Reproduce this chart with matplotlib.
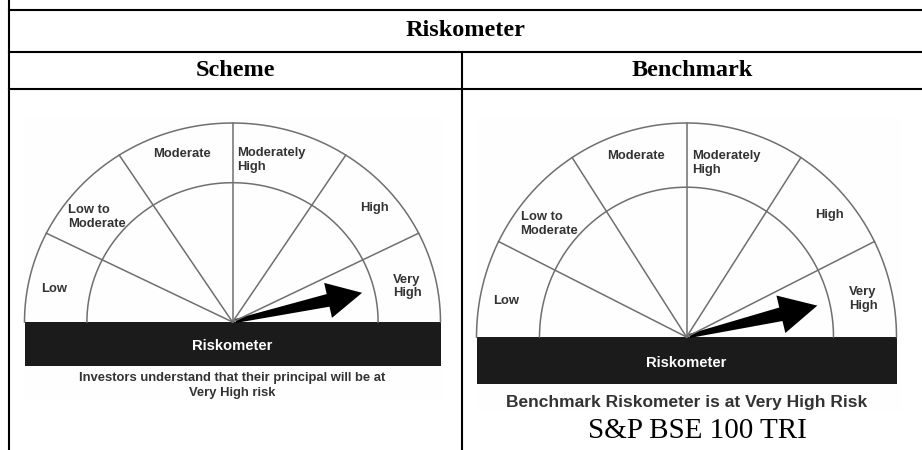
import matplotlib.pyplot as plt
from matplotlib.patches import Rectangle, Polygon
import numpy as np

# ------------------------- # Data of the chart # ------------------------- #
levels = ["Low", "Low to\nModerate", "Moderate", "Moderately\nHigh", "High",
          "Very\nHigh"]
edges = [180, 153.5, 123, 90, 57, 26.5, 0]      # segment edges in degrees
scheme_level = "Very High"
benchmark_level = "Very High"

table_title = "Riskometer"
columns = ["Scheme", "Benchmark"]
scheme_caption = ("Investors understand that their principal will be at\n"
                  "Very High risk")
benchmark_caption = "Benchmark Riskometer is at Very High Risk"
benchmark_index = "S&P BSE 100 TRI"

# ------------------------- # Styles # ------------------------- #
LINE = '#6f6f6f'
TEXT = '#333333'
BAR = '#1b1b1b'
SANS = 'Liberation Sans'
SERIF = 'Liberation Serif'
# where each segment name sits (radius fraction, angle in degrees)
LABEL_POS = [(0.875, 169), (0.84, 141), (0.88, 106), (0.835, 77),
             (0.89, 40), (0.86, 12)]


def draw_gauge(ax, cx, cy, rx, ry, level):
    # Outer and inner arcs
    t = np.linspace(0, np.pi, 300)
    for f in (1.0, 0.70):
        ax.plot(cx + f * rx * np.cos(t), cy - f * ry * np.sin(t),
                color=LINE, lw=1.1)
    # Dividers between the segments
    for a in edges[1:-1]:
        r = np.radians(a)
        ax.plot([cx, cx + rx * np.cos(r)], [cy, cy - ry * np.sin(r)],
                color=LINE, lw=1.1)
    # Segment names
    for name, (f, a) in zip(levels, LABEL_POS):
        r = np.radians(a)
        ax.text(cx + f * rx * np.cos(r), cy - f * ry * np.sin(r),
                name, ha='center', va='center', multialignment='left',
                fontsize=9.4, fontweight='bold', color=TEXT, family=SANS,
                linespacing=1.2)
    # Black bar with the word Riskometer
    bar_h = 0.22 * ry
    ax.add_patch(Rectangle((cx - rx, cy), 2 * rx, bar_h, color=BAR, lw=0))
    ax.text(cx, cy + bar_h / 2 + 2, "Riskometer", ha='center', va='center',
            fontsize=10.6, fontweight='bold', color='white', family=SANS)
    # Pointer
    names = [n.replace("\n", " ") for n in levels]
    i = names.index(level)
    th = np.radians((edges[i] + edges[i + 1]) / 2)
    start = np.array([cx + 3, cy - 1])
    tip = np.array([cx + 0.64 * rx * np.cos(th), cy - 0.64 * ry * np.sin(th)])
    u = (tip - start) / np.linalg.norm(tip - start)
    n = np.array([-u[1], u[0]])
    head_len, head_w = 0.175 * ry, 0.18 * ry
    w0, w1 = 4.0, 0.065 * ry
    base = tip - u * head_len
    pts = [start + n * w0 / 2, base + n * w1 / 2, base + n * head_w / 2, tip,
           base - n * head_w / 2, base - n * w1 / 2, start - n * w0 / 2]
    ax.add_patch(Polygon(pts, closed=True, color='black', lw=0))
    return cy + bar_h


fig = plt.figure(figsize=(9.22, 4.5), dpi=100)
ax = fig.add_axes([0, 0, 1, 1])
ax.set_xlim(0, 922)
ax.set_ylim(450, 0)
ax.axis('off')

# ------------------------- # Table frame # ------------------------- #
for y in (10, 52, 89):
    ax.plot([8.5, 922], [y, y], color='black', lw=1.5)
ax.plot([8.5, 8.5], [0, 450], color='black', lw=1.5)
ax.plot([462, 462], [52, 450], color='black', lw=1.5)

ax.text(465, 31, table_title, ha='center', va='center', fontsize=17.5,
        fontweight='bold', family=SERIF)
ax.text(235, 70, columns[0], ha='center', va='center', fontsize=17.5,
        fontweight='bold', family=SERIF)
ax.text(692, 70, columns[1], ha='center', va='center', fontsize=17.5,
        fontweight='bold', family=SERIF)

# ------------------------- # Gauges # ------------------------- #
ax.add_patch(Rectangle((23, 118), 419, 282, color='#fefefe', lw=0))
ax.add_patch(Rectangle((476, 118), 426, 294, color='#fefefe', lw=0))

bottom = draw_gauge(ax, 232.5, 322, 208, 199, scheme_level)
ax.text(232.5, bottom + 20, scheme_caption, ha='center', va='center',
        fontsize=9.4, fontweight='bold', color=TEXT, family=SANS,
        linespacing=1.3)

bottom = draw_gauge(ax, 686.5, 337, 210, 214, benchmark_level)
ax.text(686.5, bottom + 18, benchmark_caption, ha='center', va='center',
        fontsize=12.5, fontweight='bold', color=TEXT, family=SANS)
ax.text(697.5, 431, benchmark_index, ha='center', va='center', fontsize=21,
        family=SERIF)

fig.savefig('out.png', dpi=100)
